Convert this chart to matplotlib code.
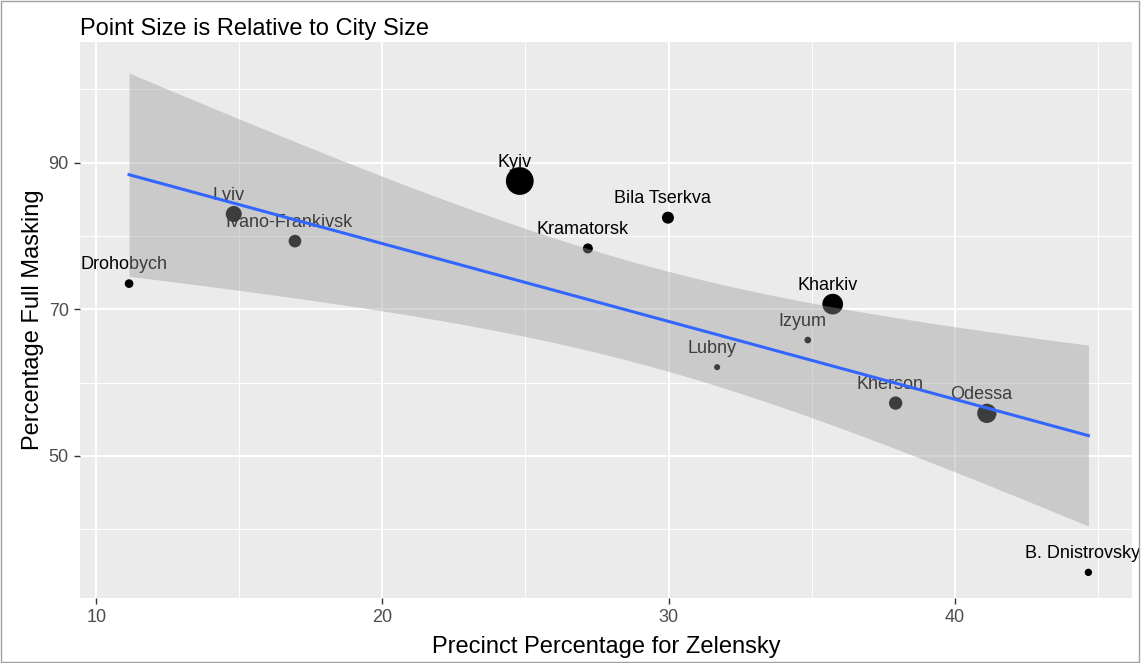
import numpy as np
import matplotlib
matplotlib.use("Agg")
import matplotlib.pyplot as plt

plt.rcParams['font.family'] = ['Liberation Sans', 'DejaVu Sans']

# city results
cities = ['Drohobych', 'Lviv', 'Ivano-Frankivsk', 'Kyiv', 'Kramatorsk', 'Bila Tserkva',
          'Kharkiv', 'Izyum', 'Lubny', 'Kherson', 'Odessa', 'B. Dnistrovsky']
zelensky_pct = [11.14, 14.8, 16.94, 24.8, 27.18, 29.98, 35.74, 34.87, 31.7, 37.94, 41.13, 44.68]
masking_pct = [73.5, 83.0, 79.3, 87.5, 78.3, 82.5, 70.7, 65.8, 62.1, 57.2, 55.8, 34.1]
city_size = [39, 133, 83, 400, 52, 75, 222, 23, 19, 92, 193, 28]

x = np.array(zelensky_pct)
y = np.array(masking_pct)

# linear fit with 95% confidence band
n = len(x)
slope, intercept = np.polyfit(x, y, 1)
resid = y - (slope * x + intercept)
s_err = np.sqrt(np.sum(resid ** 2) / (n - 2))
sxx = np.sum((x - x.mean()) ** 2)
xs = np.linspace(x.min(), x.max(), 80)
fit = slope * xs + intercept
t_crit = 2.228  # t(0.975, df=10)
band = t_crit * s_err * np.sqrt(1.0 / n + (xs - x.mean()) ** 2 / sxx)

fig = plt.figure(figsize=(11.41, 6.63), dpi=100)
ax = fig.add_axes([0.070, 0.098, 0.922, 0.839])
ax.set_facecolor('#EBEBEB')

ax.scatter(x, y, s=city_size, color='black', linewidths=0, zorder=3)
for name, xi, yi in zip(cities, x, y):
    ax.annotate(name, (xi, yi), xytext=(-4, 13.5), textcoords='offset points',
                ha='center', va='center', fontsize=13, color='black', zorder=3)

ax.fill_between(xs, fit - band, fit + band, color='#999999', alpha=0.4, linewidth=0, zorder=4)
ax.plot(xs, fit, color='#3366FF', linewidth=2.2, zorder=5)

ax.set_xlim(9.42, 46.2)
ax.set_ylim(30.6, 106.5)
ax.set_xticks([10, 20, 30, 40])
ax.set_yticks([50, 70, 90])
ax.set_xticks([15, 25, 35, 45], minor=True)
ax.set_yticks([40, 60, 80, 100], minor=True)
ax.grid(which='major', color='white', linewidth=1.4)
ax.grid(which='minor', color='white', linewidth=0.7)
ax.set_axisbelow(True)
for sp in ax.spines.values():
    sp.set_visible(False)
ax.tick_params(which='major', length=4, width=1, color='#333333', labelcolor='#4D4D4D',
               labelsize=13, pad=4)
ax.tick_params(which='minor', length=0)

ax.set_xlabel('Precinct Percentage for Zelensky', fontsize=17, labelpad=7)
ax.set_ylabel('Percentage Full Masking', fontsize=17, labelpad=3)
ax.set_title('Point Size is Relative to City Size', fontsize=17, loc='left', pad=5)

# thin frame round the figure
fig.patches.append(plt.Rectangle((0.001, 0.001), 0.997, 0.997, transform=fig.transFigure,
                                 fill=False, edgecolor='#A0A0A0', linewidth=1))

fig.savefig('out.png', dpi=100)
